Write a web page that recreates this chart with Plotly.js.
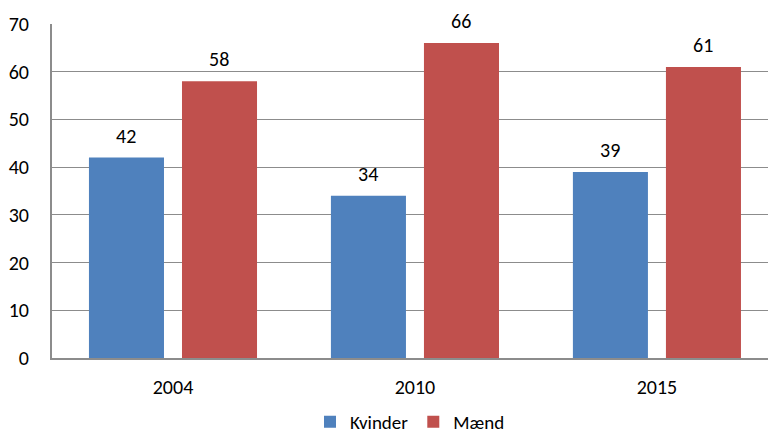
<!DOCTYPE html>
<html><head><meta charset="utf-8">
<script src="https://cdn.plot.ly/plotly-3.0.1.min.js"></script>
<style>html,body{margin:0;padding:0;background:#fff}</style>
</head><body><div id="chart" style="width:768px;height:434px"></div>
<script>
const years = ['2004', '2010', '2015'];
const kvinder = [42, 34, 39];
const maend = [58, 66, 61];
const seriesNames = ['Kvinder', 'Mænd'];
const colors = ['#4f81bd', '#c0504d'];

const fontFamily = 'Carlito, Calibri, "Open Sans", sans-serif';
const font = {family: fontFamily, size: 20, color: '#000'};
const traces = [
  {type: 'bar', x: years, y: kvinder, name: seriesNames[0], marker: {color: colors[0]}},
  {type: 'bar', x: years, y: maend, name: seriesNames[1], marker: {color: colors[1]}}
];
const labelAnnotations = [];
[kvinder, maend].forEach(function (vals, si) {
  vals.forEach(function (v, i) {
    labelAnnotations.push({
      x: i, y: v, xref: 'x', yref: 'y', text: String(v), showarrow: false,
      xanchor: 'center', yanchor: 'bottom', xshift: si === 0 ? -46.5 : 46.5, yshift: 8,
      font: {family: fontFamily, size: 20, color: '#000'}
    });
  });
});
const layout = {
  width: 768, height: 434,
  margin: {l: 52, r: 0, t: 24, b: 76},
  paper_bgcolor: '#fff', plot_bgcolor: '#fff',
  font: font,
  barmode: 'group', bargap: 0.231, bargroupgap: 0.1935,
  showlegend: true,
  legend: {orientation: 'h', x: 0.5, xanchor: 'center', yref: 'container', y: 0.028, yanchor: 'middle',
           font: {family: fontFamily, size: 19, color: '#000'}, itemwidth: 30, borderwidth: 0},
  annotations: labelAnnotations,
  xaxis: {type: 'category', range: [-0.5, 2.459], showline: true, linecolor: '#8c8c8c', linewidth: 2,
          ticks: '', tickfont: font, showgrid: false, ticklabelstandoff: 10, automargin: false},
  yaxis: {range: [0, 70], dtick: 10, showline: true, linecolor: '#8c8c8c', linewidth: 2,
          gridcolor: '#8c8c8c', gridwidth: 1, ticks: '', tickfont: font, zeroline: false,
          ticklabelstandoff: 17, automargin: false}
};
Plotly.newPlot('chart', traces, layout, {staticPlot: true});
</script></body></html>
